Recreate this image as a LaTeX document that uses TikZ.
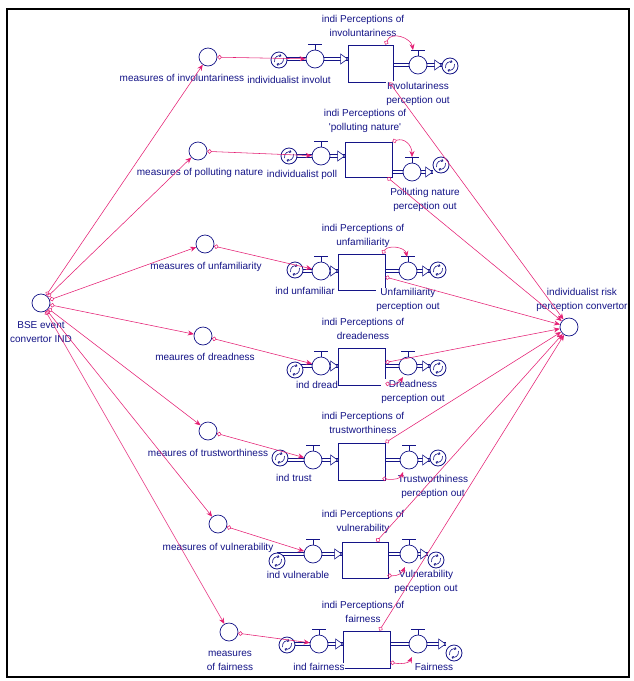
\documentclass[tikz,border=0pt]{standalone}
\usepackage{fontspec}
\setmainfont{Liberation Sans}
\usetikzlibrary{arrows.meta,backgrounds,calc}
\definecolor{sdblue}{RGB}{20,20,135}
\definecolor{sdpink}{RGB}{228,30,115}
\begin{document}
\begin{tikzpicture}[x=1pt,y=-1pt,
  conv/.style={circle,draw=sdblue,fill=white,line width=0.7pt,minimum size=18pt,inner sep=0pt},
  valve/.style={circle,draw=sdblue,fill=white,line width=0.7pt,minimum size=18pt,inner sep=0pt},
  stock/.style={rectangle,draw=sdblue,fill=white,line width=0.8pt,minimum width=46pt,minimum height=36pt,inner sep=0pt},
  sdcloud/.style={circle,draw=sdblue,fill=white,line width=0.8pt,minimum size=16pt,inner sep=0pt},
  lab/.style={text=sdblue,font=\fontsize{10}{14}\selectfont,align=center,inner sep=0.5pt,fill=white},
  conn/.style={draw=sdpink,line width=0.55pt,{Circle[open,length=4.5pt,width=4.5pt]}-{Stealth[length=6pt,width=5pt]}},
  pipe/.style={draw=sdblue,line width=0.6pt,double=white,double distance=2.6pt},
  tri/.style={draw=sdblue,fill=white,line width=0.6pt},
  swirl/.style={sdblue,line width=0.6pt,-{Straight Barb[length=1.5pt,width=2.5pt]}},
]
\useasboundingbox (0,0) rectangle (633,681);
\draw[line width=1.2pt] (7,9) rectangle (629,677);

% converters
\node[conv] (bse) at (41,303) {};
\node[conv] (risk) at (569,327) {};
\node[conv] (m1) at (208,57) {};
\node[conv] (m2) at (198,151) {};
\node[conv] (m3) at (205,244) {};
\node[conv] (m4) at (203,336) {};
\node[conv] (m5) at (208,431) {};
\node[conv] (m6) at (218,524) {};
\node[conv] (m7) at (229,632) {};

% stocks
\node[stock,minimum width=45pt,minimum height=37pt] (s1) at (370.5,63.5) {};
\node[stock,minimum width=47pt,minimum height=35pt] (s2) at (368.5,159.5) {};
\node[stock,minimum width=47pt,minimum height=36pt] (s3) at (361.5,272) {};
\node[stock,minimum width=47pt,minimum height=37pt] (s4) at (361.5,366.5) {};
\node[stock,minimum width=47pt,minimum height=37pt] (s5) at (361.5,461.5) {};
\node[stock,minimum width=46pt,minimum height=36pt] (s6) at (365,560) {};
\node[stock,minimum width=47pt,minimum height=37pt] (s7) at (366.5,649.5) {};

% inflow clouds and valves
\node[sdcloud] (ci1) at (279,60) {};
\node[sdcloud] (ci2) at (289,156) {};
\node[sdcloud] (ci3) at (295,270) {};
\node[sdcloud] (ci4) at (295,370) {};
\node[sdcloud] (ci5) at (280,458) {};
\node[sdcloud] (ci6) at (277,561) {};
\node[sdcloud] (ci7) at (287,645) {};
\node[valve] (vi1) at (315,59) {};
\node[valve] (vi2) at (321,156) {};
\node[valve] (vi3) at (321,271) {};
\node[valve] (vi4) at (321,366) {};
\node[valve] (vi5) at (313,460) {};
\node[valve] (vi6) at (313,554) {};
\node[valve] (vi7) at (319,644) {};

% outflow valves and clouds
\node[valve] (vo1) at (418,65) {};
\node[valve] (vo2) at (412,172) {};
\node[valve] (vo3) at (408,271) {};
\node[valve] (vo4) at (408,366) {};
\node[valve] (vo5) at (409,460) {};
\node[valve] (vo6) at (409,554) {};
\node[valve] (vo7) at (418,644) {};
\node[sdcloud] (co1) at (450,66) {};
\node[sdcloud] (co2) at (441,165) {};
\node[sdcloud] (co3) at (438,270) {};
\node[sdcloud] (co4) at (438,368) {};
\node[sdcloud] (co5) at (438,458) {};
\node[sdcloud] (co6) at (436,560) {};
\node[sdcloud] (co7) at (454,653) {};

% pipes
\begin{pgfonlayer}{background}
\foreach \i in {1,...,7} {
  \draw[pipe] (vi\i -| ci\i) -- (vi\i -| s\i.west);
  \draw[pipe] (vo\i -| s\i.east) -- (vo\i -| co\i.west);
  \draw[tri] (vi\i -| s\i.west) -- ++(-7,-5) -- ++(0,10) -- cycle;
  \draw[tri] (vo\i -| co\i.west) -- ++(-7,-5) -- ++(0,10) -- cycle;
}
\end{pgfonlayer}

% valve handles and cloud swirls
\foreach \i in {1,...,7} {
  \foreach \t in {vi,vo} {
    \draw[sdblue,line width=0.8pt] (\t\i.north) -- ++(0,-5);
    \draw[sdblue,line width=1.5pt] ($(\t\i.north)+(-7,-5)$) -- ++(14,0);
  }
  \foreach \c in {ci,co} {
    \draw[swirl] ($(\c\i)+(-4.5,2)$) .. controls ($(\c\i)+(-5,-3)$) and ($(\c\i)+(-1,-5)$) .. ($(\c\i)+(2.5,-4)$);
    \draw[swirl] ($(\c\i)+(4.5,-2)$) .. controls ($(\c\i)+(5,3)$) and ($(\c\i)+(1,5)$) .. ($(\c\i)+(-2.5,4)$);
  }
}

% labels
\node[lab] at (41,332) {BSE event\\convertor IND};
\node[lab] at (582,300) {individualist risk\\perception convertor};
\node[lab] at (182,78) {measures of involuntariness};
\node[lab] at (200,173) {measures of polluting nature};
\node[lab] at (206,267) {measures of unfamiliarity};
\node[lab] at (205,357) {meaures of dreadness};
\node[lab] at (208,453) {meaures of trustworthiness};
\node[lab] at (218,548) {measures of vulnerability};
\node[lab] at (230,661) {measures\\of fairness};

\node[lab] at (363,25.5) {indi Perceptions of\\involuntariness};
\node[lab] at (365,120.5) {indi Perceptions of\\\textquotesingle polluting nature\textquotesingle};
\node[lab] at (363,235.5) {indi Perceptions of\\unfamiliarity};
\node[lab] at (363,329) {indi Perceptions of\\dreadeness};
\node[lab] at (363,422.5) {indi Perceptions of\\trustworthiness};
\node[lab] at (363,522) {indi Perceptions of\\vulnerability};
\node[lab] at (363,612) {indi Perceptions of\\fairness};

\node[lab] at (289,80) {individualist involut};
\node[lab] at (302,175) {individualist poll};
\node[lab] at (305,291) {ind unfamiliar};
\node[lab] at (317,385) {ind dread};
\node[lab] at (294,478) {ind trust};
\node[lab] at (298,575) {ind vulnerable};
\node[lab] at (319,667) {ind fairness};

\node[lab] at (418,93.5) {Involutariness\\perception out};
\node[lab] at (425,199.5) {Polluting nature\\perception out};
\node[lab] at (408,300) {Unfamiliarity\\perception out};
\node[lab] at (413,391.5) {Dreadness\\perception out};
\node[lab] at (433,487) {Trustworthiness\\perception out};
\node[lab] at (426,581.5) {Vulnerability\\perception out};
\node[lab] at (434,667) {Fairness};

% connectors
\foreach \i in {1,...,7} {
  \draw[conn] (bse) -- (m\i);
  \draw[conn] (m\i) -- (vi\i);
}
\draw[conn] ($(s1.south east)+(-4,0)$) -- (risk);
\draw[conn] ($(s2.south east)+(-5,0)$) -- (risk);
\draw[conn] ($(s3.east)+(0,5)$) -- (risk);
\draw[conn] ($(s4.east)+(0,-4)$) -- (risk);
\draw[conn] (s5.north east) -- (risk);
\draw[conn] ($(s6.north east)+(-12,0)$) -- (risk);
\draw[conn] ($(s7.north east)+(-11,0)$) -- (risk);

\draw[conn] ($(s1.north east)+(-8,0)$) .. controls +(6,-14) and +(-2,-12) .. ($(vo1.center)+(-5,-15)$);
\draw[conn] (s2.north east) .. controls +(12,-4) and +(0,-12) .. ($(vo2.center)+(0,-15)$);
\draw[conn] ($(s3.north east)+(-3,0)$) .. controls +(6,-9) and +(-2,-10) .. ($(vo3.center)+(-1,-14)$);
\draw[conn] ($(s4.south east)+(0,-2)$) .. controls +(10,2) and +(-4,6) .. ($(vo4.center)+(-5,11)$);
\draw[conn] ($(s5.south east)+(-3,-2)$) .. controls +(12,2) and +(-2,6) .. ($(vo5.center)+(-6,12)$);
\draw[conn] ($(s6.south east)+(-1,-3)$) .. controls +(10,1) and +(-3,6) .. ($(vo6.center)+(-4,13)$);
\draw[conn] ($(s7.south east)+(0,-6)$) .. controls +(12,2) and +(-3,6) .. ($(vo7.center)+(-6,13)$);
\end{tikzpicture}
\end{document}
